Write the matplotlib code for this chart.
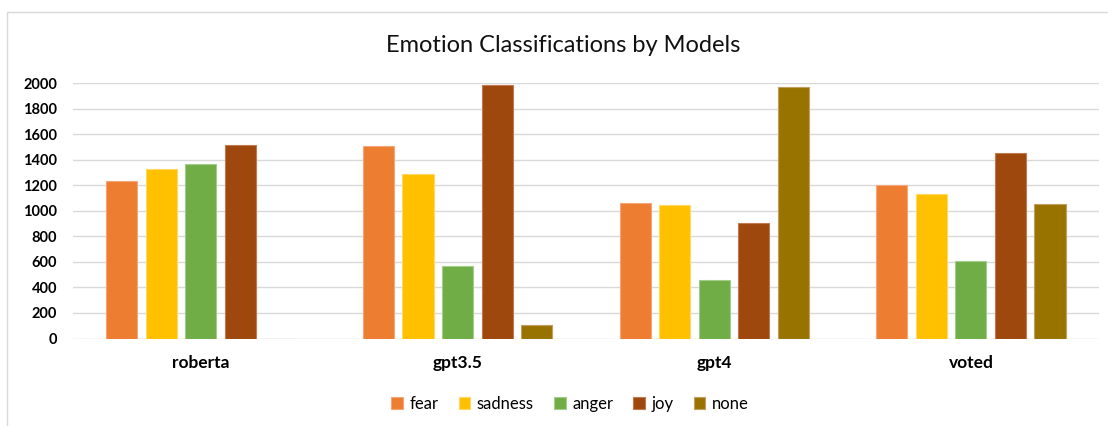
import matplotlib
matplotlib.use("Agg")
import matplotlib.pyplot as plt
import numpy as np
from matplotlib.patches import Rectangle

models = ["roberta", "gpt3.5", "gpt4", "voted"]
emotions = ["fear", "sadness", "anger", "joy", "none"]
fear = [1235, 1506, 1060, 1201]
sadness = [1326, 1290, 1050, 1130]
anger = [1368, 566, 462, 605]
joy = [1514, 1984, 903, 1457]
none = [0, 102, 1971, 1057]
colors = ["#ED7D31", "#FFC000", "#70AD47", "#9E480E", "#997300"]
edge_colors = ["#F4A77A", "#FFD966", "#A3CB8A", "#C07A50", "#C0A060"]

plt.rcParams['font.family'] = ['Lato', 'DejaVu Sans']

W, H = 1108, 426
fig = plt.figure(figsize=(W / 100, H / 100), dpi=100)
fig.patch.set_facecolor("white")
# outer chart border
fig.add_artist(Rectangle((7 / W, -0.1), 1.2, 1 - 12 / H + 0.1, transform=fig.transFigure,
                         fill=False, edgecolor="#d9d9d9", linewidth=1.0))

ax = fig.add_axes([72.5 / W, 1 - 338.5 / H, (1099.3 - 72.5) / W, (338.5 - 83.3) / H])
series = [fear, sadness, anger, joy, none]
x = np.arange(len(models))
pitch = 0.154
width = 0.121
for i, (vals, c, ec, name) in enumerate(zip(series, colors, edge_colors, emotions)):
    ax.bar(x + (i - 2) * pitch, vals, width, color=c, edgecolor=ec, linewidth=0.8,
           label=name, zorder=3)

ax.set_xlim(-0.5, 3.5)
ax.set_ylim(0, 2000)
ax.set_yticks(np.arange(0, 2001, 200))
ax.set_yticklabels([str(v) for v in range(0, 2001, 200)], fontweight="bold", fontsize=10.5)
ax.set_xticks(x)
ax.set_xticklabels(models, fontweight="bold", fontsize=12.5)
ax.tick_params(axis="both", length=0)
ax.tick_params(axis="y", pad=11)
ax.tick_params(axis="x", pad=12)
ax.grid(axis="y", color="#d9d9d9", linewidth=1.0, zorder=0)
for s in ax.spines.values():
    s.set_visible(False)

fig.text(563 / W, 1 - 45 / H, "Emotion Classifications by Models", ha="center", va="center",
         fontsize=17, color="#111111")

leg = fig.legend(loc="center", bbox_to_anchor=(570 / W, 1 - 404 / H), ncol=5, frameon=False,
                 fontsize=12, handlelength=0.7, handleheight=0.7, handletextpad=0.4,
                 columnspacing=1.2)

fig.savefig("out.png", dpi=100, facecolor="white")
